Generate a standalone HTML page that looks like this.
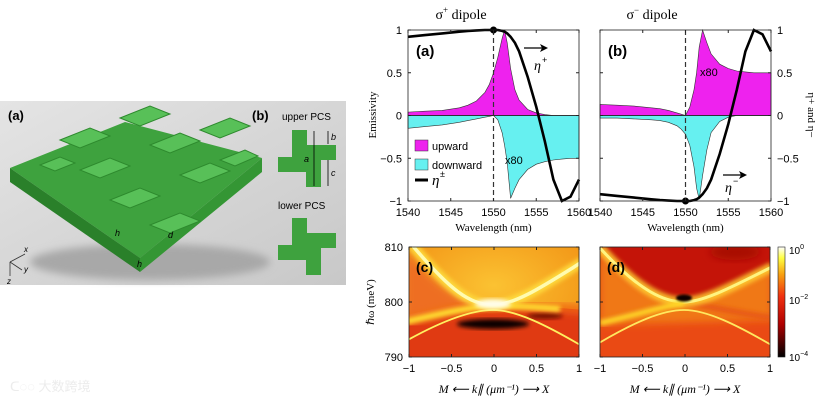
<!DOCTYPE html>
<html><head><meta charset="utf-8"><style>
body{margin:0;background:#fff;}
svg text{font-family:"Liberation Sans",sans-serif;}
.serif{font-family:"Liberation Serif",serif;}
</style></head><body>
<svg id="fig" width="822" height="406" viewBox="0 0 822 406" xmlns="http://www.w3.org/2000/svg">
<defs>
<linearGradient id="bg" x1="0" y1="0" x2="1" y2="1"><stop offset="0" stop-color="#e4e4e4"/><stop offset="1" stop-color="#c8c8c8"/></linearGradient>
<linearGradient id="cbar" x1="0" y1="1" x2="0" y2="0"><stop offset="0" stop-color="#000"/><stop offset="0.3" stop-color="#b00000"/><stop offset="0.55" stop-color="#f03010"/><stop offset="0.75" stop-color="#f8a010"/><stop offset="0.9" stop-color="#ffff40"/><stop offset="1" stop-color="#fff"/></linearGradient>
<radialGradient id="topC" cx="0.5" cy="0.35" r="0.6"><stop offset="0" stop-color="#fbc232"/><stop offset="1" stop-color="#f39818"/></radialGradient>
<filter id="blur1" x="-20%" y="-20%" width="140%" height="140%"><feGaussianBlur stdDeviation="1"/></filter>
<filter id="blur2" x="-20%" y="-20%" width="140%" height="140%"><feGaussianBlur stdDeviation="2"/></filter>
<filter id="blur4" x="-20%" y="-20%" width="140%" height="140%"><feGaussianBlur stdDeviation="4"/></filter>
<clipPath id="clipC"><rect x="409" y="247" width="170" height="110"/></clipPath>
<clipPath id="clipD"><rect x="600" y="247" width="170" height="110"/></clipPath>
</defs>

<g>
<rect x="0" y="101" width="346" height="184" fill="url(#bg)"/>
<ellipse cx="150" cy="262" rx="120" ry="18" fill="#a8a8a8" filter="url(#blur4)"/>
<polygon points="10,168 125,122 262,158 140,258" fill="#3ea23e"/>
<polygon points="10,168 140,258 140,272 10,182" fill="#2a802a"/>
<polygon points="140,258 262,158 262,172 140,272" fill="#349634"/>
<g fill="#58c058" stroke="#2e8a2e" stroke-width="1">
<polygon points="60,140 90,128 110,136 80,148"/><polygon points="120,118 150,106 170,114 140,126"/>
<polygon points="80,170 110,158 130,166 100,178"/><polygon points="150,145 180,133 200,141 170,153"/>
<polygon points="200,130 230,118 250,126 220,138"/><polygon points="110,200 140,188 160,196 130,208"/>
<polygon points="180,175 210,163 230,171 200,183"/><polygon points="150,225 180,213 200,221 170,233"/>
<polygon points="40,165 60,157 75,163 55,171"/><polygon points="220,160 245,150 258,156 235,166"/>
</g>
<text x="8" y="120" font-size="13" font-weight="bold">(a)</text>
<text x="252" y="120" font-size="13" font-weight="bold">(b)</text>
<text x="282" y="120" font-size="10">upper PCS</text>
<text x="278" y="209" font-size="10">lower PCS</text>
<path d="M292,130h15v15h29v15h-15v27h-15v-15h-28v-15h14z" fill="#3ea23e"/>
<path d="M292,218h15v15h29v15h-15v27h-15v-15h-28v-15h14z" fill="#3ea23e"/>
<g stroke="#000" stroke-width="0.8"><line x1="314" y1="131" x2="314" y2="186"/><line x1="328" y1="131" x2="328" y2="144"/><line x1="328" y1="160" x2="328" y2="186"/></g>
<text x="304" y="162" font-size="9" font-style="italic">a</text><text x="331" y="140" font-size="9" font-style="italic">b</text><text x="331" y="176" font-size="9" font-style="italic">c</text>
<text x="115" y="236" font-size="9" font-style="italic">h</text><text x="168" y="238" font-size="9" font-style="italic">d</text><text x="137" y="267" font-size="9" font-style="italic">h</text>
<g stroke="#333" stroke-width="0.8" fill="none"><path d="M10,262 L25,254"/><path d="M10,262 L10,276"/><path d="M10,262 L22,270"/></g>
<text x="24" y="252" font-size="8" font-style="italic">x</text><text x="24" y="272" font-size="8" font-style="italic">y</text><text x="7" y="284" font-size="8" font-style="italic">z</text>
</g>

<text class="serif" x="461" y="19" font-size="14" text-anchor="middle">σ<tspan font-size="9" dy="-6">+</tspan><tspan dy="6"> dipole</tspan></text>
<text class="serif" x="652" y="19" font-size="14" text-anchor="middle">σ<tspan font-size="9" dy="-6">−</tspan><tspan dy="6"> dipole</tspan></text>

<g id="plots"></g>

<g clip-path="url(#clipC)">
<rect x="409" y="247" width="170" height="110" fill="url(#topC)"/>
<path d="M405,250 C440,290 465,305 493,305 C460,310 430,318 405,322Z" fill="#ee6e20" filter="url(#blur4)"/>
<path d="M405,322 C440,314 470,307 493,306 C520,305 550,307 585,310 L585,360 L405,360Z" fill="#e03a12"/>
<path d="M405,322 C440,314 470,307 493,306 C520,305 550,307 585,310" stroke="#f06818" stroke-width="8" fill="none" filter="url(#blur4)"/>
<ellipse cx="493" cy="324" rx="36" ry="5" fill="#100000" filter="url(#blur2)"/>
<ellipse cx="545" cy="316" rx="18" ry="3" fill="#701000" filter="url(#blur2)"/>
<path d="M412,245 C450,290 470,305 493,305 C515,305 545,285 582,262" stroke="#ffe040" stroke-width="10" fill="none" opacity="0.85" filter="url(#blur2)"/>
<path d="M412,245 C450,290 470,305 493,305 C515,305 545,285 582,262" stroke="#fffbb0" stroke-width="3.5" fill="none"/>
<path d="M405,322 C440,314 470,307 493,306 C515,306 535,307 560,309" stroke="#ffe030" stroke-width="6" fill="none" filter="url(#blur2)"/>
<path d="M406,341 C440,322 470,310 493,310 C516,310 546,325 582,346" stroke="#fff060" stroke-width="1.8" fill="none"/>
<ellipse cx="493" cy="304" rx="18" ry="5" fill="#fffde8" filter="url(#blur2)"/>
</g>
<g clip-path="url(#clipD)">
<rect x="600" y="247" width="170" height="110" fill="#ea4a14"/>
<path d="M600,255 C640,292 665,302 684,302 C705,302 735,285 772,268 L772,320 L600,325Z" fill="#f07818" filter="url(#blur4)"/>
<path d="M597,245 C640,292 665,301 684,301 C705,301 735,285 773,266 L773,245Z" fill="#c41408"/>
<ellipse cx="735" cy="252" rx="25" ry="8" fill="#a80c04" filter="url(#blur4)"/>
<path d="M600,322 C640,314 665,305 684,303 C700,304 720,310 772,318" stroke="#e85a14" stroke-width="6" fill="none" filter="url(#blur2)"/>
<path d="M600,248 C640,292 665,302 684,302 C705,302 735,285 772,267" stroke="#ffd030" stroke-width="10" fill="none" opacity="0.85" filter="url(#blur2)"/>
<path d="M600,248 C640,292 665,302 684,302 C705,302 735,285 772,267" stroke="#fff480" stroke-width="3" fill="none"/>
<path d="M600,323 C635,315 665,306 684,303" stroke="#ffd828" stroke-width="6" fill="none" filter="url(#blur2)"/>
<path d="M599,343 C635,322 662,310 684,310 C707,310 737,325 773,346" stroke="#ffe860" stroke-width="1.8" fill="none"/>
<ellipse cx="684" cy="298" rx="8" ry="3.5" fill="#100000" filter="url(#blur1)"/>
</g>
<rect x="409" y="247" width="170" height="110" fill="none" stroke="#222" stroke-width="0.8"/>
<rect x="600" y="247" width="170" height="110" fill="none" stroke="#222" stroke-width="0.8"/>
<text x="416" y="272" font-size="14" font-weight="bold">(c)</text>
<text x="607" y="272" font-size="14" font-weight="bold">(d)</text>
<rect x="778" y="247" width="7" height="110" fill="url(#cbar)" stroke="#222" stroke-width="0.6"/>
<text x="789" y="254" font-size="10">10<tspan font-size="7" dy="-5">0</tspan></text>
<text x="789" y="304" font-size="10">10<tspan font-size="7" dy="-5">−2</tspan></text>
<text x="789" y="361" font-size="10">10<tspan font-size="7" dy="-5">−4</tspan></text>

<g id="hm-axes"></g>

<text x="10" y="391" font-size="13" fill="#ececec" font-family="'Liberation Sans','Noto Sans CJK SC',sans-serif">ᑕ◌◌ 大数跨境</text>
</svg>
<script>
const wl=[1540,1542,1544,1546,1547,1548,1549,1549.5,1550,1550.5,1551,1551.3,1551.6,1552,1552.5,1553,1554,1555,1556,1557,1558,1559,1560];
const upA=[0.04,0.05,0.06,0.09,0.12,0.17,0.27,0.36,0.5,0.68,0.9,1.0,0.85,0.55,0.3,0.18,0.07,0.03,0.01,0,0,0,0];
const downA=[-0.15,-0.13,-0.11,-0.08,-0.06,-0.04,-0.02,-0.01,0,-0.05,-0.2,-0.35,-0.55,-0.97,-0.85,-0.75,-0.63,-0.57,-0.54,-0.52,-0.51,-0.5,-0.5];
const etaA=[0.92,0.94,0.96,0.98,0.99,0.995,1,1,1,1,0.99,0.98,0.96,0.92,0.85,0.75,0.45,0.1,-0.3,-0.75,-1.0,-0.95,-0.75];
const upB=[0.13,0.12,0.11,0.09,0.08,0.06,0.03,0.015,0,0.1,0.3,0.5,0.8,1.0,0.85,0.72,0.6,0.55,0.52,0.51,0.5,0.5,0.5];
const downB=[-0.03,-0.03,-0.04,-0.05,-0.06,-0.08,-0.12,-0.16,-0.22,-0.35,-0.6,-0.85,-0.98,-0.7,-0.4,-0.2,-0.07,-0.02,0,0,0,0,0];
const etaB=[-0.92,-0.94,-0.96,-0.98,-0.99,-0.995,-1,-1,-1,-1,-0.99,-0.98,-0.96,-0.92,-0.85,-0.75,-0.45,-0.1,0.3,0.75,1.0,0.95,0.75];
const xTicks=[1540,1545,1550,1555,1560];
const yTicks=[1,0.5,0,-0.5,-1];
const yTickLabels=['1','0.5','0','−0.5','−1'];
const kTicks=[-1,-0.5,0,0.5,1];
const kTickLabels=['−1','−0.5','0','0.5','1'];
const eTicks=[810,800,790];
const NS='http://www.w3.org/2000/svg';
function mk(tag,attrs,parent,txt){const e=document.createElementNS(NS,tag);for(const k in attrs)e.setAttribute(k,attrs[k]);if(txt!==undefined)e.textContent=txt;parent.appendChild(e);return e;}
const root=document.getElementById('plots');
function panel(x0,up,down,eta,label,leftLabels,rightLabels,name){
  const W=171,y0=30,H=171;
  const sx=v=>x0+(v-1540)/20*W, sy=v=>y0+(1-v)/2*H;
  const g=mk('g',{},root);
  
  
  function area(arr,fill,nm){let d='M'+sx(wl[0])+','+sy(0);wl.forEach((w,i)=>d+=' L'+sx(w).toFixed(1)+','+sy(arr[i]).toFixed(1));d+=' L'+sx(wl[wl.length-1])+','+sy(0)+'Z';
    const p=mk('path',{d:d,fill:fill,stroke:'#333','stroke-width':0.6},g);
    
    }
  area(up,'#ee22ee',name+'-upward-area');
  area(down,'#66f0f0',name+'-downward-area');
  mk('line',{x1:x0,x2:x0+W,y1:sy(0),y2:sy(0),stroke:'#222','stroke-width':0.8},g);
  mk('line',{x1:sx(1550),x2:sx(1550),y1:y0,y2:y0+H,stroke:'#333','stroke-width':1.2,'stroke-dasharray':'5,3'},g);
  let d='';wl.forEach((w,i)=>d+=(i?' L':'M')+sx(w).toFixed(1)+','+sy(eta[i]).toFixed(1));
  const ep=mk('path',{d:d,fill:'none',stroke:'#000','stroke-width':2.6},g);
  
  
  const c=mk('circle',{cx:sx(1550),cy:sy(eta[8]),r:3.5,fill:'#000'},g);
  
  
  mk('rect',{x:x0,y:y0,width:W,height:H,fill:'none',stroke:'#222','stroke-width':0.8},g);
  xTicks.forEach(t=>{mk('line',{x1:sx(t),x2:sx(t),y1:y0+H,y2:y0+H-3,stroke:'#222'},g);mk('line',{x1:sx(t),x2:sx(t),y1:y0,y2:y0+3,stroke:'#222'},g);
    const tx=mk('text',{x:sx(t),y:y0+H+15,'font-size':11,'text-anchor':'middle'},g,String(t));
    
    });
  yTicks.forEach((t,i)=>{mk('line',{x1:x0,x2:x0+3,y1:sy(t),y2:sy(t),stroke:'#222'},g);mk('line',{x1:x0+W,x2:x0+W-3,y1:sy(t),y2:sy(t),stroke:'#222'},g);
    if(leftLabels){const tx=mk('text',{x:x0-6,y:sy(t)+4,'font-size':11,'text-anchor':'end'},g,yTickLabels[i]);
      
      }
    if(rightLabels){const tx=mk('text',{x:x0+W+6,y:sy(t)+4,'font-size':11},g,yTickLabels[i]);
      
      }});
  const xl=mk('text',{x:x0+W/2,y:y0+H+30,'font-size':11,'text-anchor':'middle',class:'serif'},g,'Wavelength (nm)');
  
  
  const pl=mk('text',{x:x0+8,y:y0+26,'font-size':15,'font-weight':'bold'},g,label);
  
  
}
panel(408,upA,downA,etaA,'(a)',true,false,'plot-a');
panel(600,upB,downB,etaB,'(b)',false,true,'plot-b');
const ann=mk('g',{},root);


mk('text',{x:505,y:164,'font-size':11},ann,'x80');
mk('text',{x:700,y:76,'font-size':11},ann,'x80');
mk('path',{d:'M524,48 L545,48',stroke:'#000','stroke-width':1.2},ann);mk('path',{d:'M548,48 L540,44 L542,48 L540,52Z'},ann);
mk('text',{x:534,y:70,'font-size':14,class:'serif','font-style':'italic'},ann,'η');
mk('text',{x:542,y:63,'font-size':9},ann,'+');
mk('path',{d:'M723,175 L744,175',stroke:'#000','stroke-width':1.2},ann);mk('path',{d:'M747,175 L739,171 L741,175 L739,179Z'},ann);
mk('text',{x:725,y:192,'font-size':14,class:'serif','font-style':'italic'},ann,'η');
mk('text',{x:733,y:184,'font-size':9},ann,'−');
const lg=mk('g',{},root);


const le1=mk('rect',{x:415,y:140,width:13,height:11,fill:'#ee22ee',stroke:'#333','stroke-width':0.5},lg);


mk('text',{x:432,y:150,'font-size':11},lg,'upward');
const le2=mk('rect',{x:415,y:159,width:13,height:11,fill:'#66f0f0',stroke:'#333','stroke-width':0.5},lg);


mk('text',{x:432,y:169,'font-size':11},lg,'downward');
mk('line',{x1:415,x2:428,y1:180,y2:180,stroke:'#000','stroke-width':3},lg);
mk('text',{x:432,y:185,'font-size':15,class:'serif','font-style':'italic'},lg,'η');
mk('text',{x:440,y:177,'font-size':9},lg,'±');
const yl=mk('text',{x:0,y:0,'font-size':11,class:'serif','text-anchor':'middle',transform:'translate(376,115) rotate(-90)'},root,'Emissivity');


const yr=mk('text',{x:0,y:0,'font-size':11,class:'serif','text-anchor':'middle',transform:'translate(808,115) rotate(90)'},root,'η+ and η−');


const ha=document.getElementById('hm-axes');
[409,600].forEach(x0=>{
  const sx=v=>x0+(v+1)/2*170, sy=v=>247+(810-v)/20*110;
  kTicks.forEach((t,i)=>{mk('line',{x1:sx(t),x2:sx(t),y1:357,y2:354,stroke:'#222'},ha);mk('line',{x1:sx(t),x2:sx(t),y1:247,y2:250,stroke:'#222'},ha);
    const tx=mk('text',{x:sx(t),y:372,'font-size':11,'text-anchor':'middle'},ha,kTickLabels[i]);
    
    });
  eTicks.forEach(t=>{mk('line',{x1:x0,x2:x0+3,y1:sy(t),y2:sy(t),stroke:'#222'},ha);mk('line',{x1:x0+170,x2:x0+167,y1:sy(t),y2:sy(t),stroke:'#222'},ha);
    if(x0===409){const tx=mk('text',{x:x0-6,y:sy(t)+4,'font-size':11,'text-anchor':'end'},ha,String(t));
      
      }});
  const xl=mk('text',{x:x0+85,y:393,'font-size':12,class:'serif','text-anchor':'middle','font-style':'italic'},ha,'M ⟵   k∥ (μm⁻¹)   ⟶ X');
  
  
});
const el=mk('text',{x:0,y:0,'font-size':11,class:'serif','text-anchor':'middle',transform:'translate(374,302) rotate(-90)'},root,'ℏω (meV)');


</script>
</body></html>
